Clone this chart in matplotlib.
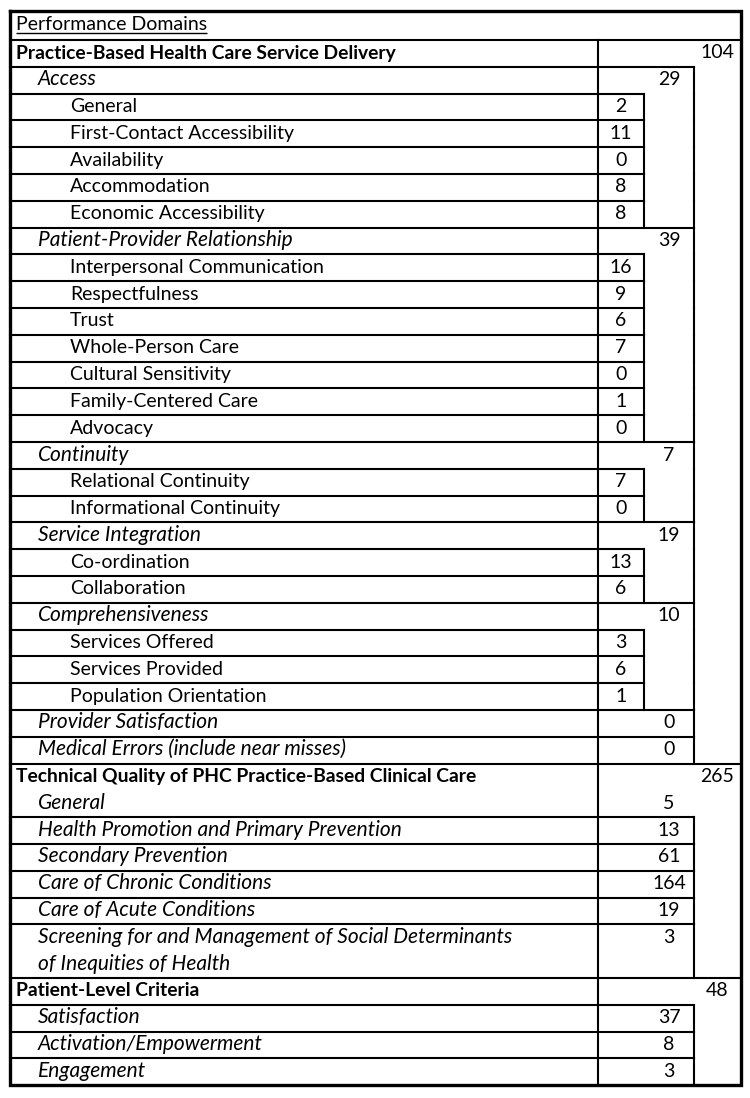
import matplotlib
matplotlib.use("Agg")
import matplotlib.pyplot as plt

plt.rcParams['font.family'] = ['Lato', 'DejaVu Sans']

HEADER = "Performance Domains"

labels = [
    "Practice-Based Health Care Service Delivery",
    "Access", "General", "First-Contact Accessibility", "Availability",
    "Accommodation", "Economic Accessibility",
    "Patient-Provider Relationship", "Interpersonal Communication",
    "Respectfulness", "Trust", "Whole-Person Care", "Cultural Sensitivity",
    "Family-Centered Care", "Advocacy",
    "Continuity", "Relational Continuity", "Informational Continuity",
    "Service Integration", "Co-ordination", "Collaboration",
    "Comprehensiveness", "Services Offered", "Services Provided",
    "Population Orientation",
    "Provider Satisfaction", "Medical Errors (include near misses)",
    "Technical Quality of PHC Practice-Based Clinical Care",
    "General", "Health Promotion and Primary Prevention",
    "Secondary Prevention", "Care of Chronic Conditions",
    "Care of Acute Conditions",
    "Screening for and Management of Social Determinants\nof Inequities of Health",
    "Patient-Level Criteria",
    "Satisfaction", "Activation/Empowerment", "Engagement",
]
levels = [1, 2, 3, 3, 3, 3, 3, 2, 3, 3, 3, 3, 3, 3, 3, 2, 3, 3, 2, 3, 3,
          2, 3, 3, 3, 2, 2, 1, 2, 2, 2, 2, 2, 2, 1, 2, 2, 2]
counts = [104, 29, 2, 11, 0, 8, 8, 39, 16, 9, 6, 7, 0, 1, 0, 7, 7, 0, 19,
          13, 6, 10, 3, 6, 1, 0, 0, 265, 5, 13, 61, 164, 19, 3, 48, 37, 8, 3]
# "General" under Technical Quality has no box of its own
framed = [True] * len(labels)
framed[28] = False

# layout (pixels)
W, H = 750, 1098
X0, X_DIV, X3, X2, X1 = 10, 598, 644, 694, 741
Y_TOP, Y_HEAD = 11, 40
ROW_H = 26.8
INDENT = {1: 16, 2: 38, 3: 70}
VAL_X = {1: (X2 + X1) / 2, 2: (X3 + X2) / 2, 3: (X_DIV + X3) / 2}
LW = 1.5
FS = {1: 13.9, 2: 15.0, 3: 14.0}

fig = plt.figure(figsize=(W / 100, H / 100), dpi=100)
ax = fig.add_axes([0, 0, 1, 1])
ax.set_xlim(0, W)
ax.set_ylim(H, 0)
ax.axis('off')

line_kw = dict(colors='black', linewidth=LW, capstyle='projecting')

y = Y_HEAD
for lab, lev, val, fr in zip(labels, levels, counts, framed):
    lines = lab.split("\n")
    h = ROW_H * len(lines)
    style = 'italic' if lev == 2 else 'normal'
    weight = 'bold' if lev == 1 else 'normal'
    for k, ln in enumerate(lines):
        ax.text(INDENT[lev], y + 18.5 + k * ROW_H, ln, fontsize=FS[lev],
                fontstyle=style, fontweight=weight, va='baseline', ha='left')
    ax.text(VAL_X[lev], y + 18.5, str(val), fontsize=14, va='baseline',
            ha='center')
    if lev == 1:
        ax.hlines(y, X0, X1, **line_kw)
    elif lev == 2 and fr:
        ax.hlines(y, X0, X2, **line_kw)
        ax.vlines(X2, y, y + h, **line_kw)
    elif lev == 3:
        ax.hlines(y, X0, X3, **line_kw)
        ax.vlines([X3, X2], y, y + h, **line_kw)
    y += h
Y_BOT = y

ax.vlines(X_DIV, Y_HEAD, Y_BOT, **line_kw)

# header with underline
t = ax.text(INDENT[1], Y_TOP + 19, HEADER, fontsize=14, va='baseline',
            ha='left')
fig.canvas.draw()
bb = t.get_window_extent().transformed(ax.transData.inverted())
ax.hlines(Y_TOP + 21.5, bb.x0, bb.x1, colors='black', linewidth=1.0)

# outer border
ax.plot([X0, X1, X1, X0, X0], [Y_TOP, Y_TOP, Y_BOT, Y_BOT, Y_TOP],
        color='black', linewidth=2.4, solid_joinstyle='miter')

fig.savefig('out.png', dpi=100)
